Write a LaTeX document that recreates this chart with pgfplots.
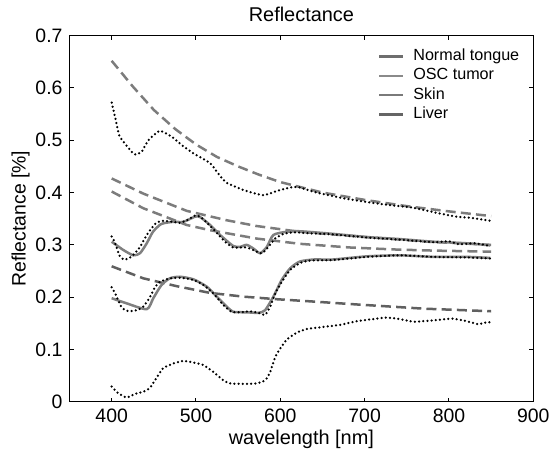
\documentclass[border=0pt]{standalone}
\usepackage{pgfplots}
\pgfplotsset{compat=1.18}
\usepackage{fontspec}
\setmainfont{Liberation Sans}
\usetikzlibrary{calc}
\definecolor{fitgray}{HTML}{808080}
\definecolor{dashgray}{HTML}{7C7C7C}
\definecolor{dashdark}{HTML}{606060}
\definecolor{lg1}{HTML}{6E6E6E}
\definecolor{lg2}{HTML}{8A8A8A}
\definecolor{lg3}{HTML}{7A7A7A}
\definecolor{lg4}{HTML}{656565}
\begin{document}
\begin{tikzpicture}
\begin{axis}[
  scale only axis, width=231.9bp, height=183bp,
  xmin=350, xmax=900, ymin=0, ymax=0.7,
  xtick={400,500,600,700,800,900},
  ytick={0,0.1,0.2,0.3,0.4,0.5,0.6,0.7},
  tick align=inside, major tick length=2bp,
  axis line style={line width=0.5bp},
  every tick/.style={line width=0.5bp, black},
  /pgf/number format/assume math mode=true,
  ticklabel style={font=\fontsize{9.75}{11}\selectfont},
  yticklabel style={/pgf/number format/fixed, /pgf/number format/precision=1},
  title={Reflectance},
  title style={font=\fontsize{10}{12}\selectfont, yshift=-2.5bp},
  xlabel={wavelength [nm]},
  ylabel={Reflectance [\%]},
  xlabel style={font=\fontsize{10}{12}\selectfont},
  xlabel shift=-3bp,
  ylabel style={font=\fontsize{9.75}{11}\selectfont},
  ylabel shift=-4bp,
  legend style={draw=none, fill=none, at={(rel axis cs:0.664,0.975)}, anchor=north west,
    font=\fontsize{8.1}{9}\selectfont, inner sep=0pt, row sep=-1.6bp,
    nodes={inner xsep=4.5bp}},
  legend cell align=left,
  legend image code/.code={\draw[#1] (0bp,0bp) -- (12bp,0bp);},
]
\coordinate (sw) at (rel axis cs:0,0);
\coordinate (ne) at (rel axis cs:1,1);
\addlegendimage{lg1, line width=1.25bp}
\addlegendentry{Normal tongue}
\addlegendimage{lg2, line width=1.25bp}
\addlegendentry{OSC tumor}
\addlegendimage{lg3, line width=1.25bp}
\addlegendentry{Skin}
\addlegendimage{lg4, line width=1.25bp}
\addlegendentry{Liver}

% dashed model curves
\addplot[dashgray, line width=1.25bp, dash pattern=on 5bp off 2.6bp, forget plot] coordinates {
(400,0.652) (425,0.603) (450,0.558) (475,0.522) (500,0.492) (525,0.468) (550,0.450)
(575,0.434) (600,0.420) (650,0.400) (700,0.386) (750,0.374) (800,0.364) (850,0.355)};
\addplot[dashgray, line width=1.25bp, dash pattern=on 5bp off 2.6bp, forget plot] coordinates {
(400,0.427) (437.5,0.398) (489,0.365) (536.5,0.347) (572,0.336) (623,0.325) (700,0.315) (775,0.306) (850,0.300)};
\addplot[dashgray, line width=1.25bp, dash pattern=on 5bp off 2.6bp, forget plot] coordinates {
(400,0.402) (437.5,0.370) (489,0.338) (516.7,0.328) (572,0.312) (623,0.302) (682,0.295) (738,0.291) (782,0.289) (850,0.287)};
\addplot[dashdark, line width=1.25bp, dash pattern=on 5bp off 2.6bp, forget plot] coordinates {
(400,0.259) (437.5,0.236) (477,0.221) (517,0.208) (556,0.201) (596,0.196) (635,0.192) (690.7,0.186) (769.7,0.178) (850,0.173)};

% solid fits
\addplot[fitgray, line width=1.25bp, smooth, tension=0.4, forget plot] coordinates {
(400,0.306) (414,0.290) (425.7,0.280) (433.6,0.284) (441.6,0.303) (449,0.325) (459,0.340)
(473,0.344) (485,0.344) (499,0.354) (505,0.353) (516.7,0.338) (528.5,0.319) (544,0.298)
(552,0.296) (560,0.300) (568,0.293) (576,0.284) (584,0.296) (591.8,0.319) (607.7,0.325)
(623,0.326) (662.6,0.321) (702.5,0.315) (742,0.311) (781.6,0.306) (821,0.303) (849,0.299)};
\addplot[fitgray, line width=1.25bp, smooth, tension=0.4, forget plot] coordinates {
(400,0.198) (418,0.188) (441.6,0.177) (449.4,0.198) (459,0.223) (469,0.236) (481,0.239)
(497,0.234) (512.8,0.220) (524.6,0.201) (536.5,0.182) (544,0.172) (560,0.171) (574,0.170)
(582,0.175) (591.8,0.201) (601.7,0.233) (611.6,0.255) (623,0.268) (640,0.272) (662.6,0.272)
(702.5,0.278) (742,0.280) (781.6,0.277) (821,0.277) (849,0.275)};

% measured spectra (dotted)
\pgfplotsset{meas/.style={black, line width=1.25bp, line cap=round, dash pattern=on 0bp off 2.1bp, smooth, tension=0.3, forget plot}}
\addplot[meas] coordinates {
(400,0.572) (404.8,0.539) (409,0.509) (418,0.489) (427,0.473) (435.6,0.478) (443.5,0.500)
(457,0.518) (471,0.507) (483,0.491) (497,0.475) (517,0.456) (526,0.437) (536,0.419) (556,0.405)
(564,0.401) (580,0.395) (600,0.405) (619,0.411) (643,0.400) (675,0.389) (702,0.382)
(730,0.376) (754,0.372) (766,0.368) (789,0.360) (809,0.354) (829,0.351) (849,0.346)};
\addplot[meas] coordinates {
(400,0.316) (404,0.304) (409,0.280) (414,0.272) (420,0.274) (426.5,0.282) (433.6,0.296)
(440.7,0.316) (445.5,0.328) (453,0.342) (461,0.346) (473,0.344) (481,0.342) (489,0.347)
(499,0.356) (505,0.354) (513,0.342) (520.6,0.330) (528.5,0.316) (536.5,0.303) (544,0.295)
(552,0.295) (560,0.295) (568,0.290) (576,0.284) (580.7,0.287) (585.8,0.296) (593.8,0.312)
(603.6,0.321) (615.5,0.324) (635,0.322) (662.6,0.320) (702.5,0.314) (742,0.310)
(781.6,0.305) (800,0.307) (812,0.301) (830,0.303) (849,0.298)};
\addplot[meas] coordinates {
(400,0.219) (405,0.204) (412,0.180) (420,0.173) (430,0.175) (437.5,0.182) (444.7,0.198)
(451.4,0.219) (457,0.229) (469,0.236) (483,0.237) (497,0.233) (509,0.223) (520.6,0.207)
(532.5,0.185) (542,0.172) (552,0.171) (564,0.173) (574,0.170) (582,0.166) (588,0.182)
(594,0.207) (601.7,0.229) (611.5,0.252) (623,0.265) (635,0.270) (662.6,0.271)
(702.5,0.277) (742,0.280) (781.6,0.277) (821,0.276) (849,0.274)};
\addplot[meas] coordinates {
(400,0.029) (408,0.016) (418,0.008) (427.7,0.015) (437.5,0.019) (445,0.026) (453,0.045)
(461,0.064) (473,0.073) (485,0.078) (497,0.075) (509,0.070) (520.6,0.057) (532.5,0.041)
(540,0.035) (556,0.034) (572,0.035) (582,0.041) (588,0.057) (594,0.086) (600,0.102)
(607.7,0.119) (619.5,0.132) (631,0.139) (651,0.143) (671,0.147) (690.7,0.154) (710,0.158)
(726,0.161) (742,0.158) (758,0.153) (777.6,0.155) (797,0.158) (805,0.159) (821,0.154)
(835,0.148) (841,0.151) (849,0.152)};
\end{axis}
\pgfresetboundingbox
\path[use as bounding box] ($(sw)+(-34.75bp,-24.65bp)$) rectangle ($(ne)+(8.35bp,17.85bp)$);
\end{tikzpicture}
\end{document}
